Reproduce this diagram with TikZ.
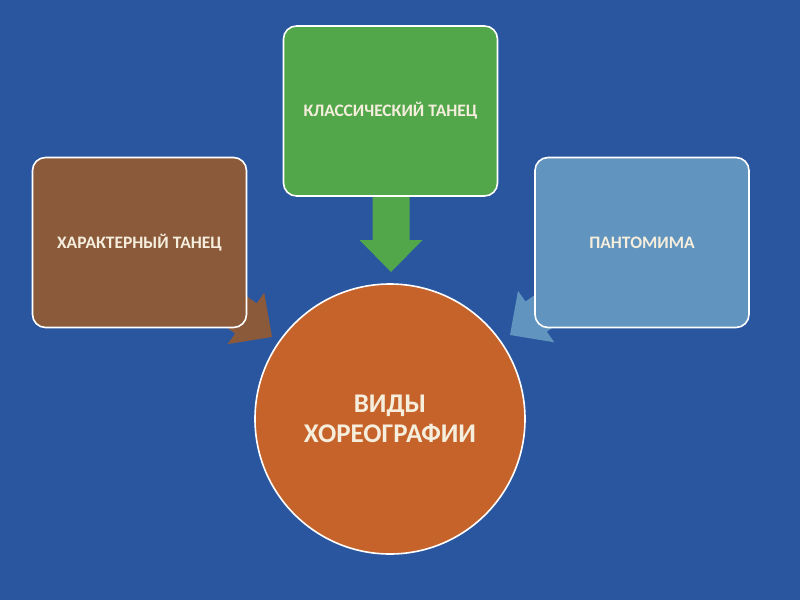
\documentclass[tikz,border=0pt]{standalone}
\usepackage{fontspec}
\setmainfont{Carlito}
\usetikzlibrary{positioning}

\definecolor{bgblue}{HTML}{2A56A0}
\definecolor{kgreen}{HTML}{52A74B}
\definecolor{kbrown}{HTML}{8A5A3B}
\definecolor{ksteel}{HTML}{6194BE}
\definecolor{korange}{HTML}{C6632B}
\definecolor{kcream}{HTML}{F6EEDD}

\tikzset{
  kbox/.style={draw=white, line width=1.6pt, rounded corners=13pt,
    minimum width=214pt, minimum height=170pt, text=kcream,
    font=\bfseries\fontsize{17.5}{20}\selectfont},
  kcircle/.style={circle, draw=white, line width=1.6pt, minimum size=270pt,
    fill=korange, text=kcream, align=center,
    font=\bfseries\fontsize{27}{30}\selectfont},
}

\newcommand{\blockarrow}[4]{%
  \begin{scope}[shift={(#1,#2)}, rotate=#3]
    \fill[#4] (0,0) -- (-32,-31.5) -- (-32,-18.5) -- (-85,-18.5)
      -- (-85,18.5) -- (-32,18.5) -- (-32,31.5) -- cycle;
  \end{scope}}

\begin{document}
\begin{tikzpicture}[x=1pt, y=-1pt]
      \fill[bgblue] (0,0) rectangle (800,600);
      \useasboundingbox (0,0) rectangle (800,600);

      % arrows sit under the boxes
      \blockarrow{272}{337}{-35.5}{kbrown}
      \blockarrow{510}{335}{-144.8}{ksteel}
      \blockarrow{391}{272}{-90}{kgreen}

      \node[kbox, fill=kgreen] (classic) at (390.5, 111) {КЛАССИЧЕСКИЙ ТАНЕЦ};
      \node[kbox, fill=kbrown] (character) at (139.5, 242.5) {ХАРАКТЕРНЫЙ ТАНЕЦ};
      \node[kbox, fill=ksteel] (pantomime) at (642, 242.5) {ПАНТОМИМА};

      \node[kcircle] (kinds) at (390, 419) {ВИДЫ\\ХОРЕОГРАФИИ};
    \end{tikzpicture}
\end{document}
